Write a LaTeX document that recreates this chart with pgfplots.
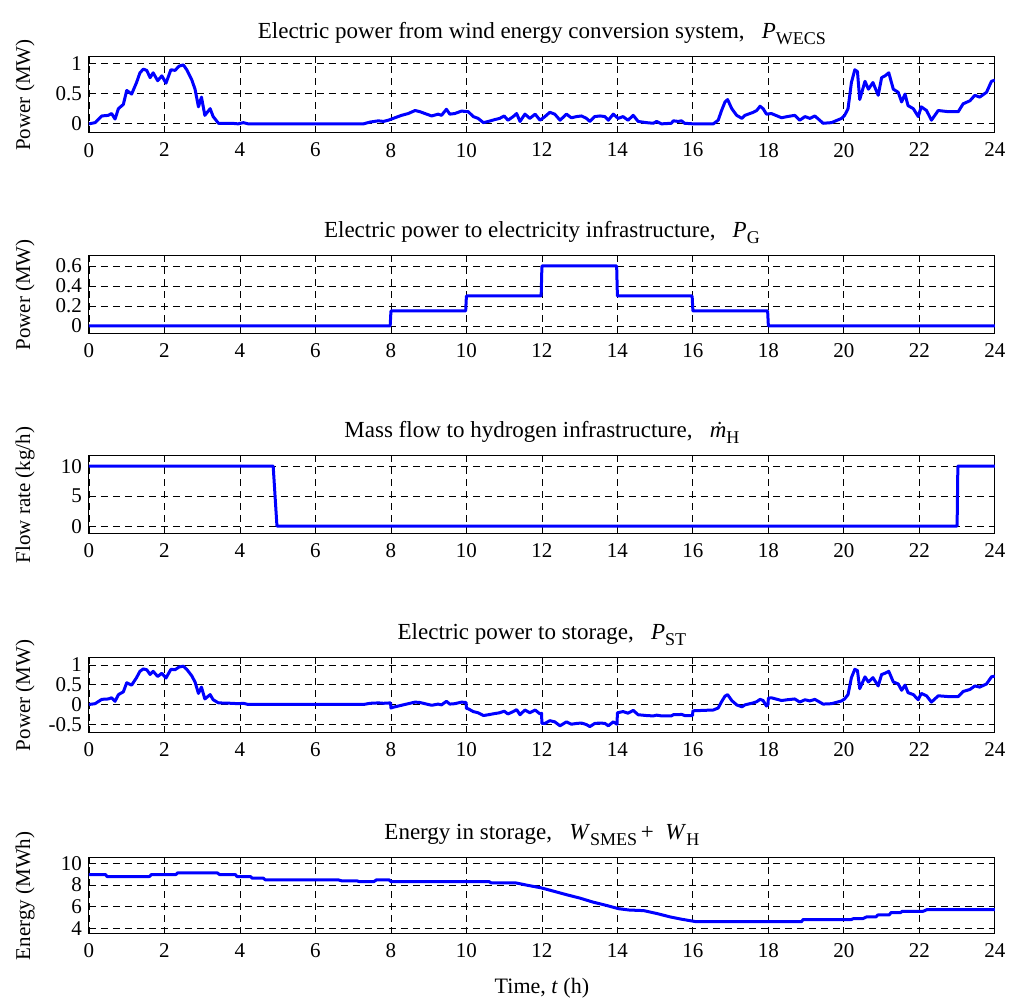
\documentclass[border=0pt]{standalone}
\usepackage{fontspec}
\setmainfont{Liberation Serif}
\usepackage{pgfplots}
\pgfplotsset{compat=1.18}

\newcommand{\sub}[1]{\raisebox{-3pt}{\small #1}}

\pgfplotsset{
  mat/.style={
    scale only axis, width=453pt, height=38pt,
    anchor=north west,
    xmin=0, xmax=24, xtick={0,2,...,24},
    grid=major,
    major grid style={black, line width=0.4pt, dash pattern=on 3.5pt off 2.5pt},
    tick align=inside, tick pos=both, major tick length=3pt,
    axis line style={black, line width=0.5pt},
    tick style={black, line width=0.4pt},
    /pgf/number format/assume math mode=true,
    ticklabel style={font=\fontsize{10.5}{12}\selectfont},
    xticklabel style={yshift=-1.5pt},
    title style={at={(0.5,1)}, anchor=base, yshift=3pt, font=\fontsize{11.5}{13}\selectfont},
    ylabel style={at={(axis description cs:0,0.5)}, anchor=center, yshift=32pt, font=\fontsize{10.5}{12}\selectfont},
    every axis plot/.append style={blue, line width=1.5pt, line join=round, no marks},
  }
}

\begin{document}
\begin{tikzpicture}
\path (-44.5pt,28.5pt) rectangle (461.5pt,-472pt);

% wind power
\begin{axis}[mat, at={(0,0)}, height=38pt,
  ymin=-0.15, ymax=1.1, ytick={0,0.5,1},
  title={Electric power from wind energy conversion system, \ \ \textit{P}\sub{WECS}},
  ylabel={Power (MW)}]
\addplot coordinates {
(0,0) (0.16,0.02) (0.34,0.13) (0.51,0.14) (0.6,0.17) (0.69,0.08) (0.78,0.25) (0.91,0.32)
(1.0,0.55) (1.13,0.49) (1.26,0.68) (1.35,0.84) (1.44,0.90) (1.53,0.88) (1.62,0.76) (1.7,0.84)
(1.82,0.71) (1.93,0.79) (2.04,0.67) (2.17,0.89) (2.28,0.88) (2.39,0.95) (2.5,0.97) (2.59,0.89)
(2.72,0.73) (2.81,0.57) (2.9,0.28) (2.98,0.44) (3.07,0.14) (3.21,0.25) (3.29,0.12) (3.43,0.01)
(3.78,0.01) (3.95,0.0) (4.09,0.02) (4.22,0) (7.27,0) (7.45,0.03) (7.67,0.05) (7.8,0.04)
(7.93,0.06) (8.06,0.09) (8.28,0.14) (8.46,0.17) (8.64,0.22) (8.77,0.20) (8.9,0.17) (9.08,0.13)
(9.25,0.16) (9.34,0.14) (9.47,0.24) (9.56,0.16) (9.69,0.17) (9.87,0.21) (10.05,0.20) (10.18,0.12)
(10.31,0.09) (10.45,0.02) (10.58,0.04) (10.75,0.07) (10.88,0.09) (11.0,0.13) (11.1,0.06) (11.24,0.12)
(11.33,0.17) (11.42,0.04) (11.55,0.16) (11.68,0.09) (11.82,0.16) (11.95,0.06) (12.08,0.12) (12.21,0.19)
(12.34,0.16) (12.48,0.06) (12.65,0.16) (12.78,0.10) (12.92,0.12) (13.05,0.13) (13.18,0.09) (13.27,0.04)
(13.4,0.12) (13.54,0.13) (13.67,0.12) (13.76,0.06) (13.89,0.16) (14.02,0.09) (14.15,0.12) (14.28,0.06)
(14.42,0.14) (14.55,0.04) (14.77,0.02) (14.95,0.01) (15.04,0.04) (15.17,0) (15.43,0.01) (15.48,0.05)
(15.61,0.04) (15.7,0.05) (15.78,0.01) (16.01,0) (16.54,0) (16.67,0.06) (16.76,0.22) (16.85,0.36)
(16.92,0.40) (17.03,0.25) (17.16,0.14) (17.3,0.09) (17.38,0.14) (17.51,0.17) (17.6,0.19) (17.69,0.22)
(17.78,0.29) (17.86,0.25) (17.95,0.16) (18.08,0.17) (18.35,0.10) (18.5,0.12) (18.7,0.14) (18.83,0.06)
(18.97,0.12) (19.1,0.09) (19.23,0.13) (19.36,0.06) (19.45,0.01) (19.67,0.02) (19.94,0.09) (20.02,0.14)
(20.11,0.25) (20.2,0.68) (20.29,0.89) (20.36,0.86) (20.42,0.40) (20.56,0.70) (20.65,0.57) (20.77,0.68)
(20.91,0.47) (21.0,0.76) (21.09,0.79) (21.19,0.84) (21.31,0.57) (21.44,0.52) (21.53,0.36) (21.62,0.49)
(21.7,0.30) (21.84,0.25) (21.97,0.12) (22.05,0.28) (22.19,0.22) (22.32,0.06) (22.5,0.22) (22.77,0.20)
(23.03,0.20) (23.16,0.33) (23.34,0.38) (23.47,0.47) (23.6,0.44) (23.78,0.52) (23.91,0.70) (24,0.72)
};
\end{axis}

% grid power
\begin{axis}[mat, at={(0,-99.5pt)}, height=39pt,
  ymin=-0.08, ymax=0.7, ytick={0,0.2,0.4,0.6},
  title={Electric power to electricity infrastructure, \ \ \textit{P}\sub{G}},
  ylabel={Power (MW)}]
\addplot coordinates {
(0,0) (7.98,0) (8.0,0.15) (9.98,0.15) (10.0,0.3) (11.98,0.3) (12.0,0.6) (13.98,0.6)
(14.0,0.3) (15.98,0.3) (16.0,0.15) (17.98,0.15) (18.0,0) (24,0)
};
\end{axis}

% hydrogen flow
\begin{axis}[mat, at={(0,-199.5pt)}, height=39pt,
  ymin=-1.3, ymax=11.7, ytick={0,5,10},
  title={Mass flow to hydrogen infrastructure, \ \ \textit{\.m}\sub{H}},
  ylabel={Flow rate (kg/h)}]
\addplot coordinates {
(0,10) (4.88,10) (4.98,0) (23.0,0) (23.02,10) (24,10)
};
\end{axis}

% storage power
\begin{axis}[mat, at={(0,-300.5pt)}, height=37.5pt,
  ymin=-0.72, ymax=1.18, ytick={-0.5,0,0.5,1},
  title={Electric power to storage, \ \ \textit{P}\sub{ST}},
  ylabel={Power (MW)}]
\addplot coordinates {
(0,0) (0.16,0.02) (0.34,0.13) (0.51,0.14) (0.6,0.17) (0.69,0.08) (0.78,0.25) (0.91,0.32)
(1.0,0.55) (1.13,0.49) (1.26,0.68) (1.35,0.84) (1.44,0.90) (1.53,0.88) (1.62,0.76) (1.7,0.84)
(1.82,0.71) (1.93,0.79) (2.04,0.67) (2.17,0.89) (2.28,0.88) (2.39,0.95) (2.5,0.97) (2.59,0.89)
(2.72,0.73) (2.81,0.57) (2.9,0.28) (2.98,0.44) (3.07,0.14) (3.21,0.25) (3.29,0.12) (3.43,0.04)
(3.78,0.03) (3.95,0.02) (4.09,0.03) (4.22,0) (7.27,0) (7.45,0.03) (7.67,0.04) (7.8,0.03)
(7.99,0.04) (8.0,-0.09) (8.06,-0.07) (8.28,-0.02) (8.46,0.02) (8.64,0.06) (8.77,0.05) (8.9,0.02)
(9.08,-0.02) (9.25,0.01) (9.34,-0.01) (9.47,0.08) (9.56,0.01) (9.69,0.02) (9.87,0.06) (9.99,0.05)
(10.0,-0.10) (10.05,-0.11) (10.18,-0.18) (10.31,-0.21) (10.45,-0.28) (10.58,-0.26) (10.75,-0.23) (10.88,-0.21)
(11.0,-0.17) (11.1,-0.24) (11.24,-0.18) (11.33,-0.13) (11.42,-0.26) (11.55,-0.14) (11.68,-0.21) (11.82,-0.14)
(11.95,-0.24) (11.99,-0.22) (12.0,-0.48) (12.08,-0.48) (12.21,-0.41) (12.34,-0.44) (12.48,-0.54) (12.65,-0.44)
(12.78,-0.50) (12.92,-0.48) (13.05,-0.47) (13.18,-0.51) (13.27,-0.56) (13.4,-0.48) (13.54,-0.47) (13.67,-0.48)
(13.76,-0.54) (13.89,-0.44) (13.99,-0.50) (14.0,-0.21) (14.15,-0.18) (14.28,-0.22) (14.42,-0.15) (14.55,-0.26)
(14.77,-0.28) (14.95,-0.29) (15.04,-0.27) (15.17,-0.29) (15.43,-0.29) (15.48,-0.26) (15.61,-0.26) (15.7,-0.25)
(15.78,-0.28) (15.99,-0.28) (16.0,-0.16) (16.54,-0.14) (16.67,-0.09) (16.76,0.07) (16.85,0.21) (16.92,0.25)
(17.03,0.10) (17.16,-0.01) (17.3,-0.06) (17.38,-0.01) (17.51,0.02) (17.6,0.04) (17.69,0.07) (17.78,0.13)
(17.86,0.10) (17.95,-0.04) (17.99,0.00) (18.0,0.16) (18.08,0.17) (18.35,0.10) (18.5,0.12) (18.7,0.14)
(18.83,0.06) (18.97,0.12) (19.1,0.09) (19.23,0.13) (19.36,0.06) (19.45,0.01) (19.67,0.02) (19.94,0.09)
(20.02,0.14) (20.11,0.25) (20.2,0.68) (20.29,0.89) (20.36,0.86) (20.42,0.40) (20.56,0.70) (20.65,0.57)
(20.77,0.68) (20.91,0.47) (21.0,0.76) (21.09,0.79) (21.19,0.84) (21.31,0.57) (21.44,0.52) (21.53,0.36)
(21.62,0.49) (21.7,0.30) (21.84,0.25) (21.97,0.12) (22.05,0.28) (22.19,0.22) (22.32,0.06) (22.5,0.22)
(22.77,0.20) (23.03,0.20) (23.16,0.33) (23.34,0.38) (23.47,0.47) (23.6,0.44) (23.78,0.52) (23.91,0.70)
(24,0.72)
};
\end{axis}

% stored energy
\begin{axis}[mat, at={(0,-400.5pt)}, height=38pt,
  ymin=3.5, ymax=10.5, ytick={4,6,8,10},
  title={Energy in storage, \ \ \textit{W}\sub{SMES}\,+ \ \textit{W}\sub{H}},
  ylabel={Energy (MWh)},
  xlabel={Time, \textit{t} (h)},
  xlabel style={font=\fontsize{11}{13}\selectfont, yshift=-3pt}]
\addplot coordinates {
(0,8.96) (0.44,8.96) (0.48,8.78) (1.6,8.78) (1.65,8.96) (2.3,8.96) (2.35,9.12) (3.4,9.12)
(3.46,8.96) (3.88,8.96) (3.92,8.78) (4.28,8.78) (4.32,8.63) (4.62,8.63) (4.67,8.48) (6.6,8.48)
(6.7,8.38) (7.1,8.38) (7.15,8.32) (7.55,8.32) (7.62,8.48) (7.95,8.48) (8.0,8.32) (10.6,8.32)
(10.65,8.2) (11.3,8.2) (11.64,7.96) (11.98,7.74) (12.3,7.44) (12.66,7.1) (13.0,6.8) (13.35,6.43)
(13.7,6.13) (14.03,5.82) (14.3,5.7) (14.7,5.64) (15.05,5.37) (15.4,5.06) (15.7,4.85) (16.07,4.63)
(18.88,4.63) (18.92,4.82) (20.2,4.82) (20.25,4.9) (20.5,4.9) (20.6,5.06) (20.85,5.06) (20.9,5.24)
(21.2,5.24) (21.25,5.46) (21.5,5.46) (21.55,5.58) (22.1,5.58) (22.2,5.73) (24,5.73)
};
\end{axis}
\end{tikzpicture}
\end{document}
